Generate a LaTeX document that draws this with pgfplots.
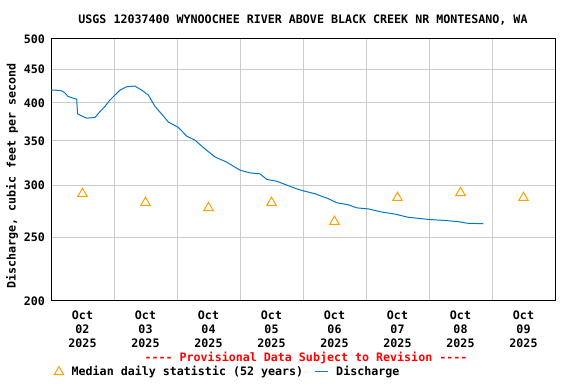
\documentclass[border=0pt]{standalone}
\usepackage{fontspec}
\setmonofont{DejaVu Sans Mono}
\usepackage{pgfplots}
\pgfplotsset{compat=1.18}
\definecolor{usgsblue}{RGB}{0,119,204}
\definecolor{medorange}{RGB}{255,160,0}
\definecolor{gridgray}{RGB}{204,204,204}
\pgfplotsset{shortline/.style={legend image code/.code={\draw[##1] (0bp,0bp) -- (13bp,0bp);}}}
\newcommand{\usgsfont}{\ttfamily\bfseries\fontsize{11.7}{14}\selectfont}
\begin{document}
\begin{tikzpicture}[font=\usgsfont]
\useasboundingbox (0,0) rectangle (576bp,384bp);
\begin{axis}[
  at={(51bp,83bp)}, anchor=south west,
  scale only axis, width=504bp, height=262bp,
  xmin=0, xmax=8, ymode=log, ymin=200, ymax=500,
  /pgf/number format/assume math mode=true,
  xtick={0.5,1.5,2.5,3.5,4.5,5.5,6.5,7.5},
  xticklabels={{Oct\\02\\2025},{Oct\\03\\2025},{Oct\\04\\2025},{Oct\\05\\2025},{Oct\\06\\2025},{Oct\\07\\2025},{Oct\\08\\2025},{Oct\\09\\2025}},
  xticklabel style={align=center, font=\usgsfont, yshift=-6bp},
  minor xtick={1,2,3,4,5,6,7},
  xminorgrids,
  ytick={200,250,300,350,400,450,500},
  yticklabels={200,250,300,350,400,450,500},
  minor y tick num=0,
  yticklabel style={xshift=-2.5bp, font=\usgsfont},
  ymajorgrids,
  major tick length=0pt, minor tick length=0pt,
  grid style={gridgray, line width=1bp},
  major grid style={gridgray, line width=1bp},
  minor grid style={gridgray, line width=1bp},
  axis line style={line width=1bp},
  ylabel={Discharge, cubic feet per second},
  ylabel style={at={(axis description cs:-0.0774,0.477)}, anchor=center, font=\usgsfont},
  title={USGS 12037400 WYNOOCHEE RIVER ABOVE BLACK CREEK NR MONTESANO, WA},
  title style={at={(axis description cs:0.5,1)}, anchor=center, yshift=13.5bp, font=\usgsfont},
  legend columns=2,
  legend style={at={(axis description cs:0,-0.271)}, anchor=west, draw=none, fill=none,
    font=\usgsfont,
    /tikz/every odd column/.append style={column sep=6bp},
    /tikz/every even column/.append style={column sep=9bp}},
]
\addplot[only marks, mark=triangle, mark size=5.5pt, mark options={draw=medorange, line width=1bp}, medorange]
coordinates {(0.5,291) (1.5,282) (2.5,277) (3.5,282) (4.5,264) (5.5,287) (6.5,292) (7.5,287)};
\addlegendentry{Median daily statistic (52 years)}
\addplot[usgsblue, line width=1bp, mark=none, shortline]
coordinates {
(0.000,418) (0.079,418) (0.170,417) (0.222,414) (0.270,409) (0.333,407) (0.408,405)
(0.421,385) (0.487,382) (0.567,379) (0.698,380) (0.778,388) (0.857,395) (0.937,404)
(1.016,411) (1.095,418) (1.202,423) (1.333,424) (1.440,418) (1.544,411) (1.651,395)
(1.783,382) (1.862,374) (2.021,367) (2.154,356) (2.286,351) (2.418,342) (2.603,331)
(2.789,325) (3.000,316) (3.159,313) (3.317,312) (3.424,306) (3.583,304) (3.741,300)
(3.900,296) (4.005,294) (4.190,291) (4.402,286) (4.535,282) (4.719,280) (4.852,277)
(5.037,276) (5.249,273) (5.460,271) (5.671,268) (5.989,266) (6.254,265) (6.465,264)
(6.598,262.5) (6.862,262)
};
\addlegendentry{Discharge}
\end{axis}
\node[red, anchor=center, font=\usgsfont] at (306bp,26bp) {---- Provisional Data Subject to Revision ----};
\end{tikzpicture}
\end{document}
